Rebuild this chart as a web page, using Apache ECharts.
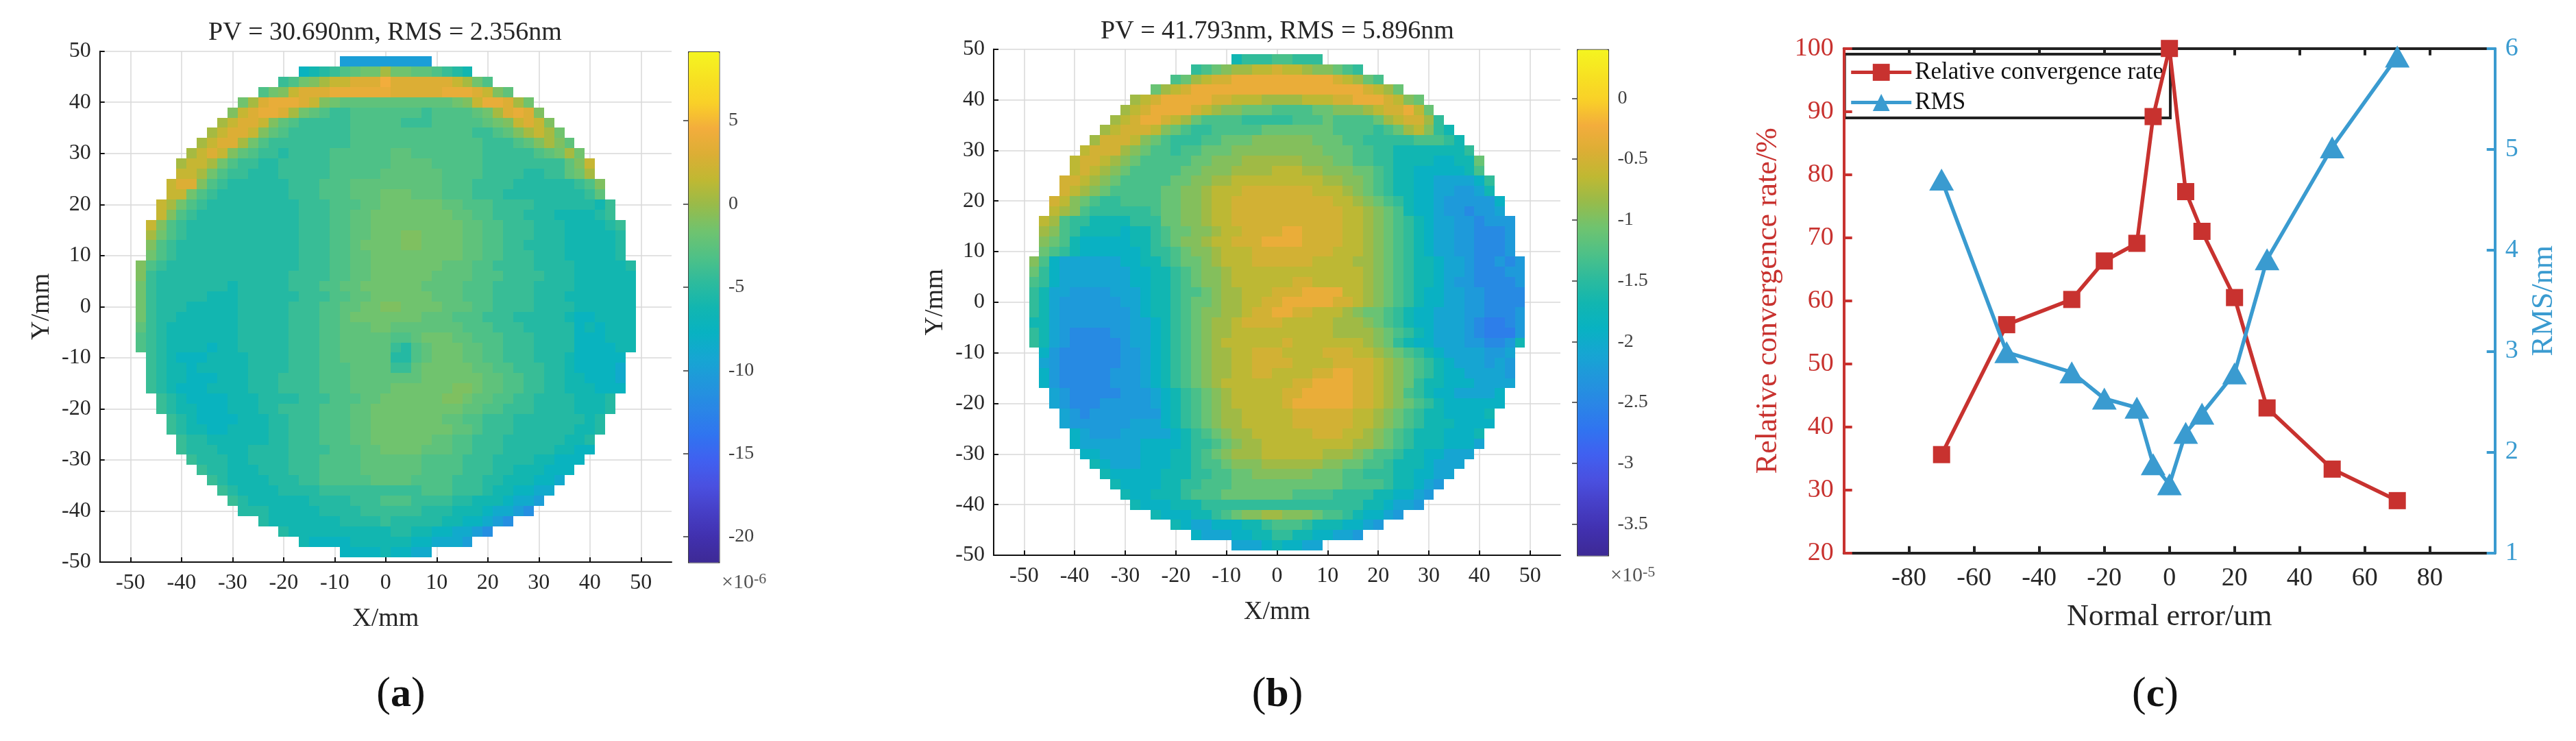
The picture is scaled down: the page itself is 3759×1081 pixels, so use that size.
<!DOCTYPE html>
<html><head><meta charset="utf-8">
<style>html,body{margin:0;padding:0;background:#fff}#c{width:3759px;height:1081px}</style>
<script src="https://cdn.jsdelivr.net/npm/echarts@6/dist/echarts.min.js"></script>
</head><body><div id="c"></div>
<script>
// Chart (c) values
const normalError = [-70,-50,-30,-20,-10,-5,0,5,10,20,30,50,70];
const convergenceRate = [35.6,56.2,60.2,66.3,69.1,89.2,100,77.3,71.0,60.5,43.0,33.3,28.3];
const rmsNm = [4.70,2.99,2.79,2.53,2.44,1.88,1.68,2.19,2.38,2.78,3.91,5.02,5.92];
const xTicksMap = [-50,-40,-30,-20,-10,0,10,20,30,40,50];
const xTicksLine = [-80,-60,-40,-20,0,20,40,60,80];
const cbTicksA = [5,0,-5,-10,-15,-20];
const cbTicksB = [0,-0.5,-1,-1.5,-2,-2.5,-3,-3.5];
// Colour-level tables (value for each letter)
const levelsA = {a:-13,b:-11.5,c:-10,d:-8.7,e:-7.5,f:-6.2,g:-5.2,h:-4.2,i:-3.2,j:-2.4,k:-1.6,l:-1,m:0.5,n:1.8,o:3,p:3.8,q:4.5,r:5};
const levelsB = {a:-3,b:-2.6,c:-2.45,d:-2.25,e:-2.1,f:-1.9,g:-1.7,h:-1.45,i:-1.3,j:-1.1,k:-0.95,l:-0.8,m:-0.65,n:-0.5,o:-0.3,p:0,q:0.2};
// Map (a): rows from Y=48 down to Y=-48 every 2 mm, each row centred on X=0, 2 mm per letter
const surfaceA = [
"ccccccccc",
"efghijkkmkkjjihgf",
"hiklmnnoooqoooooonmki",
"iklnoooppppppoooooppponlj",
"kmopppon lk jjjjjjjjjjj klnppomk",
"lnoppomkji hhiiiiiiihiiii jkmopol",
"mnoonljihh hhhiiiiihhhiiiii jklnonl",
"mnoonljihh hhhhiiiiiiiiiiiihh ijlmnmk",
"mnoomkihhh hhhhhiiiiiiiiiiiiihh hijlmlj",
"mnonljihhg hhhhiiiiiijjiiiiiiihhh hhijkmk",
"mnnmkihhgg hhhhhiiiiiijjjjiiiiihhhh hhhhjln",
"nnmkihhggg hhhhhiiiiijjjjjjiiiihhhh gghhjkm",
"noolihgggg gghhhiiijjjjjjjjjiiihhhhgg gggghil",
"nnkihggggg gghhhiiijjjkkkjjjiiihhhggg ggggghj",
"nmkihggggg gggghhhiiijjkkkkkkjjiiihhhhgg ggggfh",
"nlihgggggg gggghhhiijjkkkkkkkkjjiihhhggg ffffgh",
"nlihgggggg ggggghhhiijjkkkkkkkkkjjiihhhggg ffffgh",
"mkihgggggg ggggghhhiijjkkkllkkkkjjiihhhggg fffffg",
"lihggggggg ggggghhhiijkkkkllkkkkjjiihhgggg fffffg",
"kihggggggg ggggghhhiijjkkkkkkkkkjjiihhhggg fffffg",
"lihggggggg gggggghhhiijjkkkkkkkjjjiihhhhgggg fffffg",
"lhgggggggg ggggghhhhiijjkkkkkkjjjjiiihhhhggg ffffff",
"khgggggggf ggggghhhiijjkkkkkkjjjjiiihhhhgggg ffffff",
"khgggggfff gggggghhhiijjkkkkkkjjjiiihhhhgggf ffffff",
"khgggfffff ggggghhhiijjkkllkkkkjjjiihhhhgggg ffffff",
"khggffffff ggggghhhiijkkkkkkkjjjiiihhhgggggf eeffff",
"jhgfffffff ggggghhhiijjjkkjjjjjjjiiihhhggggg efefff",
"ihgfffffff ggggghhhiijjjjjiijkkkjjiiihhhgggg eeefff",
"ihgffffeff ggggghhhiijjjjjhgijkkkjjiihhhgggg eeeeff",
"hgfeeeffff gggghhhiijjjjjggijkkkjjiihhhggg feeeee",
"hgffefffff gggghhhiiijjjjhhjkkkkkjjiihhhgg feeeed",
"hgffeeefff ggghhhhiiijjjjjjjkkkkkkjjiihhgg ffeeed",
"hgfeeeffff ggghhhhiiijjjjkkkkkkllkjjiihhgg fffeee",
"hgfeeeefff gggghhhiiijjkkkkkkllkjjiihhgg ggfffg",
"hgffeeefff gghhhhiiijjkkkkkkkkkjjiihhhgg ggfffg",
"hgfeeeefff gghhhiiijjkkkkkkkjjiihhhgg gggggfg",
"hgffeeffff gghhhiiijjkkkkkkkkjjihhhgg ggggffg",
"hggffffffg ghhhiiijjkkkkkkjjiihhhgg ggggffg",
"hgggfffggg ghhhhiiijjkkkkjjjiihhhgg gggffee",
"hgggffgggg hhhiiiijjjjjjiiiihhhgg ggffeee",
"hggfffgggh hhiiiijjjjjjiiiihhhg gfffeee",
"hgffffgggh hiiiiijjjjiiiihhhg gfffeed",
"hgffffgggg hhhhhhhhhhiiihhh gffeedd",
"hgffffffgg gghhhiiihhhhgg fffeddc",
"gggfffffgg gghhhhhhggg fffeddcb",
"gfffffff gggghgggg gffeedcb",
"gffffffffffggffeeddcb",
"feeeeffffffeedddc",
"eeeefeedd"
];
// Map (b): same layout
const surfaceB = [
"ghhhiihhh",
"hijkllmmnmmlkkjih",
"ijlmnnoooooooooonmlji",
"jlmnooooooooooooooooonmlj",
"lmnooooonnmmmllllmmmnnooonmkj",
"lmnoooonml kkjjjiiiijjkkk lmnnomj",
"lmnoonmlji iiihhhhhiiijiiii jlmnnlh",
"lmnnnmkjih hiiiiijjjjjjjiiiih ijlmkhg",
"lnnnmkjihh hiijjjkkkkkkjjjiihhh hhiiihg",
"mnnnlkjiih iijjjkkkkkkkkkjjjiihhg ggggggh",
"mnnmlkjiii iijjkkkllllllkkkjjiihhgg ggffggj",
"mnmlkjiiii ijjkkkllllmmmllkkkjjihgg fffffgi",
"nnmlkjiiii ijjkkllmmmmmmmmmllkkjihggf feeeefh",
"nmlkjiiiii jjkklmmmnnnnnnnmmmlkjihggf feeddeg",
"nmkjihhiii ijjkklmmnnnnnnnnnnmmlkjihgffe dddddf",
"mlkihhhhhh ijjkklmmnnnnnnnnnnnmmlkjigffe ddcdde",
"mlihhggggh hhjjkklmmnnnnnnnnnnnmmlkjihgfee ddcddd",
"lkihggggfg ghijjkklmmnnnnoonnnnmmlkjihgfee ddcccd",
"kjigfffffg ghijkklmmnnnoooonnnnmmlkjihgfee ddcccd",
"jihgffffff ghhijkklmmmnnnnnnnnmmmlkjihgfee ddcccd",
"kifeeeeeef fgghijjklmmmnnnnnnmmmmllkjihggfee dccdcd",
"jhfeeeeeee ffgghijkklmmmmmmmmmmmmmlkjihggfee dcccdd",
"ihfeeeeeee ffgghijkklmmmmmmnnmmmmmlkjihggfed dccccd",
"hgeeddddee efgghiijkllmmmnnnoooommlkjihgffee ddcccc",
"hgedddddde efgghijjkllmmnnooooonnmlkjihgffee ddcccc",
"hgeddddddd efgghijkkllmnnoonnmmmlkjjihgffeee ddcccd",
"ggeddddddd eefghijkllmnnnnmmmmmlllkjihgffeee dcbbcd",
"hgedccccdd eefghijkllmmmmmmmmmmllllkjihgfeee dcbbbd",
"hgedcccccd eefghijklmmmmmmnmmmmmmmlkjhgffeee ddccdg",
"fdccccccdd efghijkllmmnnnmmmmnnnmmlkjihgfe eeedde",
"edccccccdd efghijkllmmnnnnmmmmnnnnmlkjihgf eeeded",
"fdcccccddd efghijkllmmnnmmmmnnoonnmlkjihgf feeeed",
"fdcccccddd efghijklmmmmmmmnnoooonnmlkjhggf ffeeee",
"edcccccddd efghijklmmmmmnnooooonnmlkihgf feeeef",
"edcccddddd efghijklmmmmmnoooooonnmlkjihg ffffff",
"edcddddddd fghijkllmmmmmnnnnnnmmlkjih ggffffg",
"eddddddeee fghijkllmmmmmnnnnnnmmlkjih gggffff",
"fedddeeeee fghijkllmmmmmmnnnmmlkjih gggfffg",
"feeeeeefff fghhijkllmmmmmmmmmllkjih gggfffe",
"ffeeeefffg ghijklllmmmmmmlllkjiih ggffeee",
"gfeeefffgg hiijkkkllllllkkjjiih gggfeee",
"gfffffgggh hiijjkkkkkkjjjiihh hggffee",
"gffffgghhi iijjjjjjjjjjjiii ihggfed",
"gffggghiii jjjjjjjiiiihhh hggffed",
"gfffggghhh hhhhhhhhhhh hhggfeed",
"gfffgghi jkkllkkkj iihgffed",
"gfeefffgghiiihgggffed",
"feeeffgghhggffeed",
"eeefgffee"
];
// Colourbar colours, bottom to top
const barColors = ['#3d2a95','#4130ae','#463fc6','#4a50e0','#4060f0','#3074f0','#2a86e6','#2196dc','#16a6d2','#08b2c2','#12b6b0','#2ebb9c','#50c186','#70c36e','#98bb4a','#c0b832','#dcae35','#f3ad3c','#f9d028','#f7e222','#f5f520'];
const rangeA = [-21.52,9.16], rangeB = [-3.756,0.404];

function cells(rows, levels){
  const out = [];
  rows.forEach((r,i)=>{
    const s = r.replace(/ /g,'');
    const y = 48 - 2*i;
    for(let j=0;j<s.length;j++) out.push([-(s.length-1)+2*j, y, levels[s[j]]]);
  });
  return out;
}
function renderCell(params, api){
  const p0 = api.coord([api.value(0)-1, api.value(1)+1]);
  const p1 = api.coord([api.value(0)+1, api.value(1)-1]);
  const x0 = Math.round(p0[0]), y0 = Math.round(p0[1]);
  return {type:'rect', shape:{x:x0, y:y0, width:Math.round(p1[0])-x0, height:Math.round(p1[1])-y0},
    style:{fill:api.visual('color')}};
}
const FONT = '"Liberation Serif"';
const INK = '#262626';
function mapAxes(xIdx, gridIdx){
  return {
    x:{type:'value', gridIndex:gridIdx, min:-56, max:56,
      name:'X/mm', nameLocation:'middle', nameGap:64, nameTextStyle:{fontFamily:FONT,fontSize:38,color:INK},
      axisLine:{show:true,onZero:false,lineStyle:{color:'#111',width:2}},
      axisTick:{show:true,inside:true,length:7,customValues:xTicksMap,lineStyle:{color:'#111',width:2}},
      axisLabel:{show:true,customValues:xTicksMap,margin:15,fontFamily:FONT,fontSize:32,color:INK},
      splitLine:{show:true,lineStyle:{color:'#d8d8d8',width:1.5}}},
    y:{type:'value', gridIndex:gridIdx, min:-50, max:50, interval:10,
      name:'Y/mm', nameLocation:'middle', nameGap:66, nameTextStyle:{fontFamily:FONT,fontSize:38,color:INK},
      axisLine:{show:true,onZero:false,lineStyle:{color:'#111',width:2}},
      axisTick:{show:true,inside:true,length:7,lineStyle:{color:'#111',width:2}},
      axisLabel:{show:true,margin:13,fontFamily:FONT,fontSize:32,color:INK},
      splitLine:{show:true,lineStyle:{color:'#d8d8d8',width:1.5}}}
  };
}
function cbAxes(gridIdx, range, ticks){
  return {
    x:{type:'value',gridIndex:gridIdx,show:false,min:0,max:1},
    y:{type:'value',gridIndex:gridIdx,position:'right',min:range[0],max:range[1],z:6,
      axisLine:{show:false},splitLine:{show:false},
      axisTick:{show:true,inside:true,length:7,customValues:ticks,lineStyle:{color:'#333',width:1.5}},
      axisLabel:{show:true,customValues:ticks,margin:14,fontFamily:FONT,fontSize:28,color:'#404040'}}
  };
}
const mA = mapAxes(0,0), mB = mapAxes(2,2), cA = cbAxes(1,rangeA,cbTicksA), cB = cbAxes(3,rangeB,cbTicksB);
const RED='#c8322f', BLUE='#3a9bd0', BLK='#222';
const lineX = {type:'value',gridIndex:4,min:-100,max:100,position:'bottom',
  name:'Normal error/um',nameLocation:'middle',nameGap:72,nameTextStyle:{fontFamily:FONT,fontSize:44,color:INK},
  axisLine:{show:true,onZero:false,lineStyle:{color:BLK,width:4}},
  axisTick:{show:true,inside:true,length:10,customValues:xTicksLine,lineStyle:{color:BLK,width:4}},
  axisLabel:{show:true,customValues:xTicksLine,margin:18,fontFamily:FONT,fontSize:38,color:INK},
  splitLine:{show:false}};
const lineXTop = {type:'value',gridIndex:4,min:-100,max:100,position:'top',
  axisLine:{show:true,onZero:false,lineStyle:{color:BLK,width:4}},
  axisTick:{show:true,inside:true,length:10,customValues:xTicksLine,lineStyle:{color:BLK,width:4}},
  axisLabel:{show:false},splitLine:{show:false}};
const lineYL = {type:'value',gridIndex:4,min:20,max:100,interval:10,position:'left',z:5,
  name:'Relative convergence rate/%',nameLocation:'middle',nameGap:88,nameTextStyle:{fontFamily:FONT,fontSize:44,color:RED},
  axisLine:{show:true,onZero:false,lineStyle:{color:RED,width:4}},
  axisTick:{show:true,inside:true,length:12,lineStyle:{color:RED,width:4}},
  axisLabel:{show:true,margin:15,fontFamily:FONT,fontSize:38,color:RED},splitLine:{show:false}};
const lineYR = {type:'value',gridIndex:4,min:1,max:6,interval:1,position:'right',z:5,
  name:'RMS/nm',nameLocation:'middle',nameGap:50,nameTextStyle:{fontFamily:FONT,fontSize:44,color:BLUE},
  axisLine:{show:true,onZero:false,lineStyle:{color:BLUE,width:4}},
  axisTick:{show:true,inside:true,length:12,lineStyle:{color:BLUE,width:4}},
  axisLabel:{show:true,margin:15,fontFamily:FONT,fontSize:38,color:BLUE},splitLine:{show:false}};

function heading(text,x,y,size){return {text,left:x,top:y,textAlign:'center',textVerticalAlign:'middle',padding:0,
  textStyle:{fontFamily:FONT,fontSize:size,fontWeight:'normal',color:INK}};}
function exponent(exp,x,y){return {text:'{a|×10}{b|'+exp+'}',left:x,top:y,padding:0,textVerticalAlign:'top',
  textStyle:{fontWeight:'normal',rich:{a:{fontFamily:FONT,fontWeight:'normal',fontSize:30,color:'#555'},b:{fontFamily:FONT,fontWeight:'normal',fontSize:22,color:'#555',verticalAlign:'top',padding:[0,0,10,0]}}}};}
function panel(letter,x,y){return {text:'{p|(}{b|'+letter+'}{p|)}',left:x,top:y,textAlign:'center',textVerticalAlign:'middle',padding:0,
  textStyle:{fontWeight:'normal',rich:{p:{fontFamily:FONT,fontWeight:'normal',fontSize:62,color:'#111'},b:{fontFamily:FONT,fontSize:60,fontWeight:'bold',color:'#111'}}}};}

const chart = echarts.init(document.getElementById('c'),null,{renderer:'canvas'});
chart.setOption({
  backgroundColor:'#fff',animation:false,
  title:[
    heading('PV = 30.690nm, RMS = 2.356nm',562,48,38),
    heading('PV = 41.793nm, RMS = 5.896nm',1864,46,38),
    exponent('-6',1053,834),exponent('-5',2350,824),
    panel('a',585,1014),panel('b',1864,1014),panel('c',3145,1014)
  ],
  grid:[
    {left:145.7,top:74.7,width:834.3,height:745.3},
    {left:1004,top:75,width:45,height:745},
    {left:1450,top:71.7,width:827,height:738.3},
    {left:2301,top:71.7,width:45.5,height:738.3},
    {left:2690.7,top:70.7,width:950,height:736}
  ],
  xAxis:[mA.x,cA.x,mB.x,cB.x,lineX,lineXTop],
  yAxis:[mA.y,cA.y,mB.y,cB.y,lineYL,lineYR],
  visualMap:[
    {type:'continuous',seriesIndex:0,dimension:2,min:rangeA[0],max:rangeA[1],left:1004,top:75,itemWidth:45,itemHeight:745,
     padding:0,calculable:false,inRange:{color:barColors},borderColor:'#333',borderWidth:1.5,textStyle:{color:'transparent'}},
    {type:'continuous',seriesIndex:1,dimension:2,min:rangeB[0],max:rangeB[1],left:2301,top:71.7,itemWidth:45.5,itemHeight:738.3,
     padding:0,calculable:false,inRange:{color:barColors},borderColor:'#333',borderWidth:1.5,textStyle:{color:'transparent'}}
  ],
  legend:{orient:'vertical',left:2691.7,top:79,itemWidth:88,itemHeight:31,itemGap:9,itemTextGap:8,
    padding:[9,10,5,7],backgroundColor:'#fff',borderColor:BLK,borderWidth:4,z:4,
    lineStyle:{width:5},
    textStyle:{fontFamily:FONT,fontSize:35,color:'#111'},
    data:['Relative convergence rate','RMS']},
  series:[
    {type:'custom',name:'Map a',coordinateSystem:'cartesian2d',xAxisIndex:0,yAxisIndex:0,data:cells(surfaceA,levelsA),
     renderItem:renderCell,encode:{x:0,y:1},silent:true,progressive:0,z:3},
    {type:'custom',name:'Map b',coordinateSystem:'cartesian2d',xAxisIndex:2,yAxisIndex:2,data:cells(surfaceB,levelsB),
     renderItem:renderCell,encode:{x:0,y:1},silent:true,progressive:0,z:3},
    {type:'line',name:'Relative convergence rate',xAxisIndex:4,yAxisIndex:4,
     data:normalError.map((x,i)=>[x,convergenceRate[i]]),symbol:'rect',symbolSize:25,clip:false,z:5,
     lineStyle:{color:RED,width:5.5},itemStyle:{color:RED}},
    {type:'line',name:'RMS',xAxisIndex:5,yAxisIndex:5,
     data:normalError.map((x,i)=>[x,rmsNm[i]]),symbol:'triangle',symbolSize:[36,32],clip:false,z:6,
     lineStyle:{color:BLUE,width:5.5},itemStyle:{color:BLUE}}
  ]
});
</script></body></html>
